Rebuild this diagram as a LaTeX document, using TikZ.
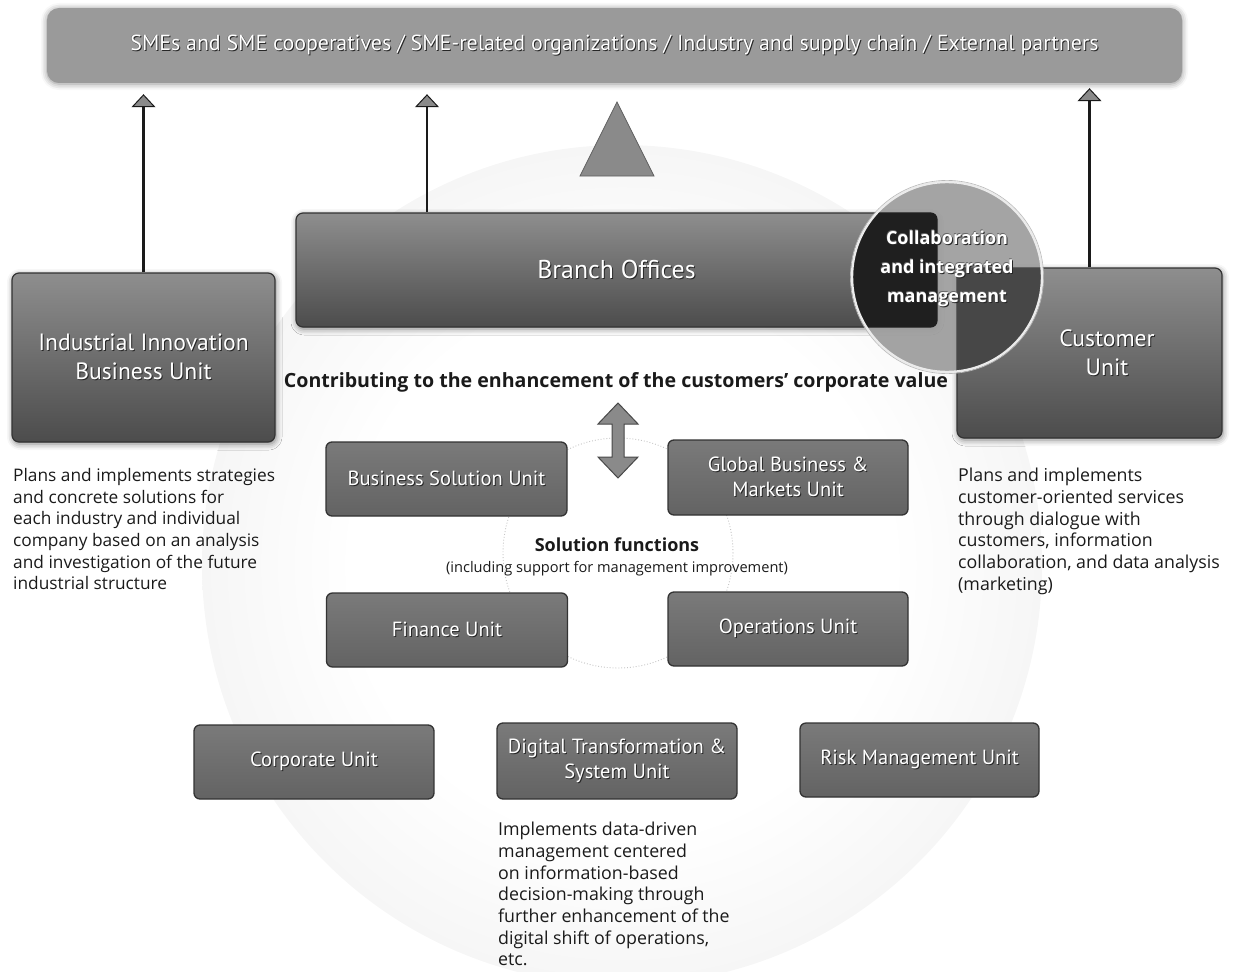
\documentclass[tikz,border=0pt]{standalone}
\usepackage{fontspec}
\setmainfont{Open Sans}
\newfontfamily\lblfont{PT Sans}
\usetikzlibrary{arrows.meta,shadows.blur,calc}

\definecolor{bannerfill}{HTML}{9A9A9A}
\definecolor{boxtop}{HTML}{8E8E8E}
\definecolor{boxbot}{HTML}{4C4C4C}
\definecolor{boxedge}{HTML}{333333}
\definecolor{smalltop}{HTML}{7A7A7A}
\definecolor{smallbot}{HTML}{636363}
\definecolor{arrowgray}{HTML}{8A8A8A}
\definecolor{ink}{HTML}{1A1A1A}
\definecolor{haloA}{HTML}{FFFFFF}
\definecolor{haloB}{HTML}{EDEDED}
\definecolor{haloC}{HTML}{D2D2D2}
\definecolor{collabfill}{HTML}{9C9C9C}

% soft round backdrop behind the solution units
\pgfdeclareradialshading{halo}{\pgfpoint{0bp}{0bp}}{color(0bp)=(haloA); color(16bp)=(haloA); color(34bp)=(haloB); color(50bp)=(haloC)}

% white label text with a dark offset shadow and a faint dark rim
\newcommand\shd[1]{\leavevmode
  \rlap{\kern1pt\raisebox{-1pt}{\color{black!85}#1}}%
  \rlap{\kern-0.4pt\raisebox{0.4pt}{\color{black!60}#1}}#1}

\tikzset{
  banner/.style={rectangle, rounded corners=12pt, fill=bannerfill, draw=none,
    minimum width=1135pt, minimum height=75pt, text=white,
    font=\lblfont\fontsize{21.9}{26}\selectfont,
    blur shadow={shadow xshift=0pt, shadow yshift=-1pt, shadow blur radius=6pt, shadow opacity=45}},
  bigbox/.style={rectangle, rounded corners=7pt, draw=boxedge, line width=1.2pt,
    top color=boxtop, bottom color=boxbot, text=white, align=center,
    font=\lblfont\fontsize{23.6}{29}\selectfont,
    blur shadow={shadow xshift=1pt, shadow yshift=-2pt, shadow blur radius=6pt, shadow opacity=50}},
  smallbox/.style={rectangle, rounded corners=6pt, draw=boxedge, line width=1.3pt,
    top color=smalltop, bottom color=smallbot, text=white, align=center,
    minimum width=241pt, minimum height=74pt,
    font=\lblfont\fontsize{20.5}{25}\selectfont},
  uparr/.style={draw=ink, line width=2.4pt,
    -{Triangle[width=24pt, length=13pt, fill=arrowgray, line width=1pt]}},
  desc/.style={font=\fontsize{17.8}{21.7}\selectfont, align=left, inner sep=0pt, text=ink, anchor=north west},
  lbl/.style={text=ink, inner sep=0pt, align=center}
}

\begin{document}
\begin{tikzpicture}[x=1pt,y=-1pt]
\useasboundingbox (0,0) rectangle (1233,971);
\clip (0,0) rectangle (1233,971);

% backdrop
\shade[shading=halo] (622,565) circle [radius=420pt];
\draw[gray!45, dotted, line width=0.9pt] (618,553) circle [radius=115pt];

% partners banner
\node[banner] (banner) at (614.5,45.5) {\shd{SMEs and SME cooperatives / SME-related organizations / Industry and supply chain / External partners}};

% main units
\node[bigbox, minimum width=641pt, minimum height=114pt, font=\lblfont\fontsize{25.8}{30}\selectfont] (branch) at (616.5,270) {\shd{Branch Offices}};
\node[bigbox, minimum width=263pt, minimum height=169pt] (iibu) at (143.5,357.5) {\shd{Industrial Innovation}\\\shd{Business Unit}};
\node[bigbox, minimum width=265pt, minimum height=170pt] (cust) at (1089.5,353) {};
\node[lbl, text=white, font=\lblfont\fontsize{23.6}{29}\selectfont] (custlbl) at (1107,353) {\shd{Customer}\\\shd{Unit}};

% upward arrows to the banner
\draw[uparr] (iibu.north) -- ([yshift=-11pt]iibu.north |- banner.south);
\draw[uparr] (branch.north -| 427,0) coordinate (bmid) -- ([yshift=-11pt]bmid |- banner.south);
\draw[uparr] (cust.north) -- ([yshift=-5pt]cust.north |- banner.south);

% triangle above the branch offices
\filldraw[fill=arrowgray, draw=ink!70, line width=0.8pt] (617,102) -- (654,176) -- (580,176) -- cycle;

% collaboration disc
\node[circle, minimum size=190pt, inner sep=0pt] (collab) at (947,277) {};
\fill[collabfill, opacity=0.92] (collab.center) circle [radius=95pt];
\begin{scope}
  \clip (collab.center) circle [radius=95pt];
  \fill[black!88, rounded corners=7pt] (branch.south west) rectangle (branch.north east);
  \fill[black!72, rounded corners=7pt] (cust.south west) rectangle (cust.north east);
\end{scope}
\draw[white!92!black, line width=2.4pt] (collab.center) circle [radius=95pt];
\draw[gray!55, line width=0.6pt] (collab.center) circle [radius=96.6pt];
\node[lbl, text=white, font=\bfseries\fontsize{18}{29}\selectfont] (collabtxt) at (947,269) {\shd{Collaboration}\\\shd{and integrated}\\\shd{management}};

% value statement and two-way arrow
\node[lbl, font=\bfseries\fontsize{19.6}{24}\selectfont] (value) at (616,382) {Contributing to the enhancement of the customers’ corporate value};
\filldraw[fill=arrowgray, draw=ink!80, line width=1pt]
  (618,403) -- (638,424) -- (624,424) -- (624,457) -- (638,457) -- (618,478)
  -- (598,457) -- (612,457) -- (612,424) -- (598,424) -- cycle;

% solution function units
\node[smallbox] (bsu) at (446.5,479) {\shd{Business Solution Unit}};
\node[smallbox, minimum width=240pt, minimum height=75pt] (gbm) at (788,477.5) {\shd{Global Business \&}\\\shd{Markets Unit}};
\node[smallbox] (fin) at (447,630) {\shd{Finance Unit}};
\node[smallbox, minimum width=240pt] (ops) at (788,629) {\shd{Operations Unit}};
\node[lbl, font=\bfseries\fontsize{18}{22}\selectfont] (solfn) at (617,545) {Solution functions};
\node[lbl, font=\fontsize{14.6}{18}\selectfont] (solsub) at (617,569) {(including support for management improvement)};

% corporate units
\node[smallbox, minimum width=240pt] (corp) at (314,762) {\shd{Corporate Unit}};
\node[smallbox, minimum width=240pt, minimum height=76pt] (dts) at (617,761) {\shd{Digital Transformation \&}\\\shd{System Unit}};
\node[smallbox, minimum width=239pt] (risk) at (919.5,760) {\shd{Risk Management Unit}};

% descriptions
\node[desc, font=\fontsize{17.3}{21.7}\selectfont] (iibudesc) at (13,468) {Plans and implements strategies\\and concrete solutions for\\each industry and individual\\company based on an analysis\\and investigation of the future\\industrial structure};
\node[desc] (custdesc) at (958,468) {Plans and implements\\customer-oriented services\\through dialogue with\\customers, information\\collaboration, and data analysis\\(marketing)};
\node[desc] (dtsdesc) at (498,822) {Implements data-driven\\management centered\\on information-based\\decision-making through\\further enhancement of the\\digital shift of operations,\\etc.};
\end{tikzpicture}
\end{document}
